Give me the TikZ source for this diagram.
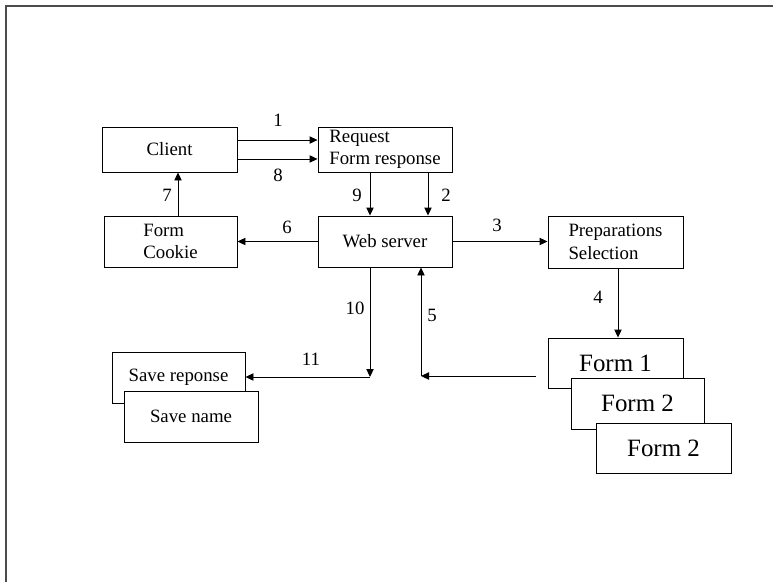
\documentclass[tikz,border=0pt]{standalone}
\usepackage{fontspec}
\setmainfont{Liberation Serif}
\usetikzlibrary{arrows.meta}
\begin{document}
\begin{tikzpicture}[x=0.75pt,y=-0.75pt,
  box/.style={draw=black, line width=0.7pt, fill=white, inner sep=0pt, align=left,
    font=\fontsize{14.1}{17}\selectfont},
  formbox/.style={box, font=\fontsize{18.7}{22}\selectfont},
  lbl/.style={inner sep=0pt, font=\fontsize{14.1}{17}\selectfont},
  arr/.style={line width=0.7pt, -{Triangle[length=6pt,width=5.5pt]}},
  frameline/.style={draw=black!70, line width=1.5pt}]
\useasboundingbox (0,0) rectangle (773,582);
\draw[frameline] (5.5,582) -- (5.5,5.5) -- (773,5.5);

% boxes
\node[box, minimum width=101.25pt, minimum height=33.75pt] (client) at (169.5,149.5) {Client};
\node[box, minimum width=100.5pt, minimum height=33.75pt] (request) at (385,149.5) {Request\\Form response};
\node[box, minimum width=99.75pt, minimum height=38.25pt] (cookie) at (170.5,241.5) {Form\\Cookie};
\node[box, minimum width=100.5pt, minimum height=38.25pt] (web) at (385,241.5) {Web server};
\node[box, minimum width=101.25pt, minimum height=39pt] (prep) at (615.5,242) {Preparations\\Selection};
\node[formbox, minimum width=101.25pt, minimum height=37.5pt] (form1) at (615.5,363) {Form 1};
\node[formbox, minimum width=99.75pt, minimum height=38.25pt] (form2) at (637.5,403.5) {Form 2};
\node[formbox, minimum width=101.25pt, minimum height=37.5pt] (form3) at (663.5,448) {Form 2};
\node[box, minimum width=99.75pt, minimum height=38.25pt] (saverep) at (178.5,377.5) {Save reponse};
\node[box, minimum width=100.5pt, minimum height=38.25pt] (savename) at (191,416.5) {Save name};

% helper coordinates
\coordinate (x7) at (178,0);
\coordinate (x9) at (370,0);
\coordinate (x2) at (428,0);
\coordinate (x4) at (618,0);
\coordinate (s5) at (536,376);
\coordinate (c5) at (421,376);
\coordinate (c10) at (370,377);

% connectors
\draw[arr] ([yshift=7.1pt]client.east) -- ([yshift=7.1pt]request.west);
\draw[arr] ([yshift=-7.1pt]client.east) -- ([yshift=-7.1pt]request.west);
\draw[arr] (cookie.north -| x7) -- (client.south -| x7);
\draw[arr] (request.south -| x9) -- (web.north -| x9);
\draw[arr] (request.south -| x2) -- (web.north -| x2);
\draw[arr] (web.west) -- (cookie.east);
\draw[arr] (web.east) -- (web.east -| prep.west);
\draw[arr] (prep.south -| x4) -- (form1.north -| x4);
\draw[arr] (s5) -- (c5);
\draw[arr] (c5) -- (web.south -| c5);
\draw[arr] (web.south -| c10) -- (c10);
\draw[arr] (c10) -- (c10 -| saverep.east);

% labels
\node[lbl] (l1) at (278,120) {1};
\node[lbl] (l8) at (278,175) {8};
\node[lbl] (l7) at (167,195) {7};
\node[lbl] (l9) at (357,195) {9};
\node[lbl] (l2) at (446,195) {2};
\node[lbl] (l6) at (287,227) {6};
\node[lbl] (l3) at (497,225) {3};
\node[lbl] (l4) at (598,297) {4};
\node[lbl] (l5) at (432,315) {5};
\node[lbl] (l10) at (355,308) {10};
\node[lbl] (l11) at (311,359) {11};
\end{tikzpicture}
\end{document}
